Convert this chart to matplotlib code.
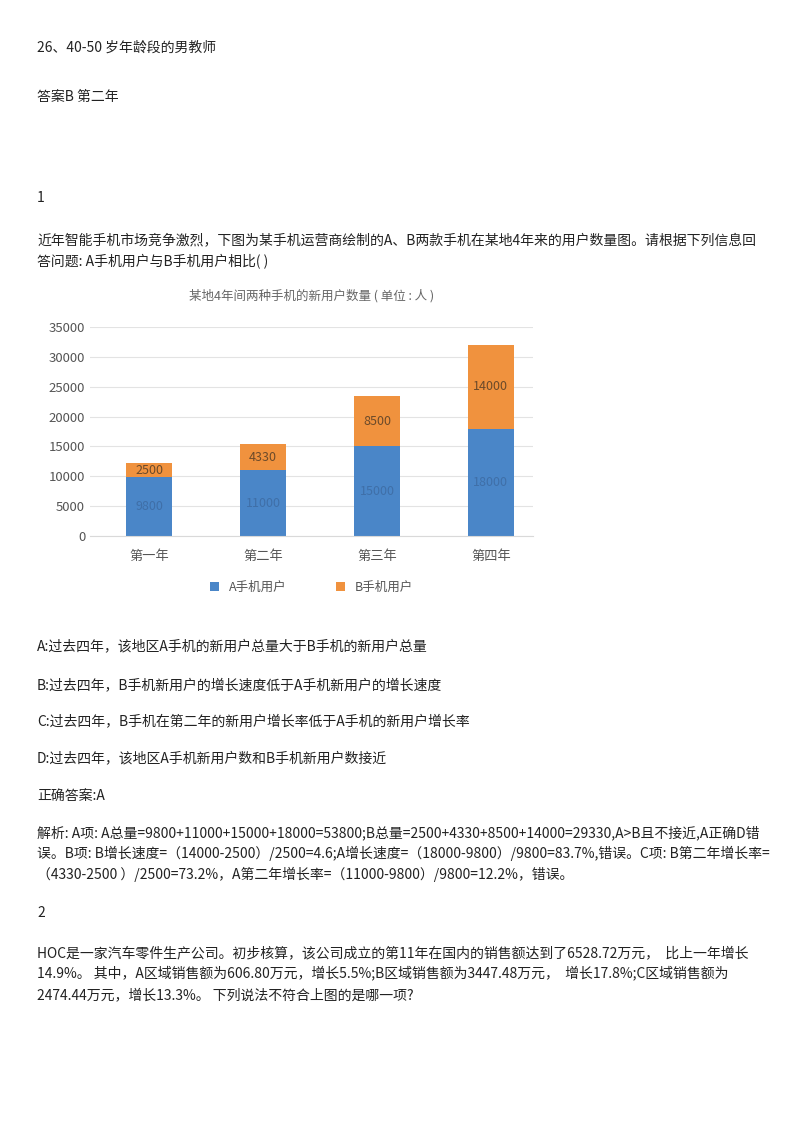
import numpy as np
import matplotlib.pyplot as plt

plt.rcParams['font.family'] = ['Noto Sans CJK SC', 'DejaVu Sans']

years = ['第一年', '第二年', '第三年', '第四年']
a_users = [9800, 11000, 15000, 18000]
b_users = [2500, 4330, 8500, 14000]
y_ticks = [0, 5000, 10000, 15000, 20000, 25000, 30000, 35000]

W, H = 800, 1132
fig = plt.figure(figsize=(W / 100, H / 100), dpi=100)

def put(x, y, s, **kw):
    fig.text(x / W, 1 - y / H, s, va='center', ha='left', fontsize=10, color='#222222', **kw)

lines = [
    (48, '26、40-50 岁年龄段的男教师'),
    (97, '答案B 第二年'),
    (198, '1'),
    (240, '近年智能手机市场竞争激烈，下图为某手机运营商绘制的A、B两款手机在某地4年来的用户数量图。请根据下列信息回'),
    (262, '答问题: A手机用户与B手机用户相比( )'),
    (646, 'A:过去四年，该地区A手机的新用户总量大于B手机的新用户总量'),
    (685, 'B:过去四年，B手机新用户的增长速度低于A手机新用户的增长速度'),
    (721, 'C:过去四年，B手机在第二年的新用户增长率低于A手机的新用户增长率'),
    (758, 'D:过去四年，该地区A手机新用户数和B手机新用户数接近'),
    (796, '正确答案:A'),
    (833, '解析: A项: A总量=9800+11000+15000+18000=53800;B总量=2500+4330+8500+14000=29330,A>B且不接近,A正确D错'),
    (853, '误。B项: B增长速度=（14000-2500）/2500=4.6;A增长速度=（18000-9800）/9800=83.7%,错误。C项: B第二年增长率='),
    (874, '（4330-2500 ）/2500=73.2%，A第二年增长率=（11000-9800）/9800=12.2%，错误。'),
    (913, '2'),
    (953, 'HOC是一家汽车零件生产公司。初步核算，该公司成立的第11年在国内的销售额达到了6528.72万元，  比上一年增长'),
    (973, '14.9%。 其中，A区域销售额为606.80万元，增长5.5%;B区域销售额为3447.48万元，  增长17.8%;C区域销售额为'),
    (995, '2474.44万元，增长13.3%。 下列说法不符合上图的是哪一项?'),
]
for y, s in lines:
    put(37, y, s)

# embedded chart
ax = fig.add_axes([90 / W, 1 - 536 / H, 443 / W, 209 / H])
x = np.arange(len(years))
blue, orange = '#4a86c8', '#f0923e'
ax.bar(x, a_users, width=0.4, color=blue, label='A手机用户')
ax.bar(x, b_users, width=0.4, bottom=a_users, color=orange, label='B手机用户')
for i in range(len(years)):
    ax.text(x[i], a_users[i] / 2, str(a_users[i]), ha='center', va='center', fontsize=9, color='#3f6fa8')
    ax.text(x[i], a_users[i] + b_users[i] / 2, str(b_users[i]), ha='center', va='center', fontsize=9, color='#6b4a2a')
ax.set_ylim(0, 35000)
ax.set_xlim(-0.52, 3.37)
ax.set_yticks(y_ticks)
ax.set_xticks(x)
ax.set_xticklabels(years)
ax.yaxis.grid(True, color='#e3e3e3', lw=0.8)
ax.set_axisbelow(True)
for sp in ['top', 'right', 'left']:
    ax.spines[sp].set_visible(False)
ax.spines['bottom'].set_color('#d9d9d9')
ax.tick_params(length=0, labelsize=9.5, colors='#555555')
ax.tick_params(axis='x', pad=10)
ax.set_title('某地4年间两种手机的新用户数量 ( 单位 : 人 )', fontsize=9, color='#666666', pad=20)
ax.legend(loc='center', bbox_to_anchor=(0.5, -0.245), ncol=2, frameon=False, fontsize=9,
          handlelength=0.7, handleheight=0.7, columnspacing=4, labelcolor='#555555')

fig.savefig('out.png', dpi=100)
